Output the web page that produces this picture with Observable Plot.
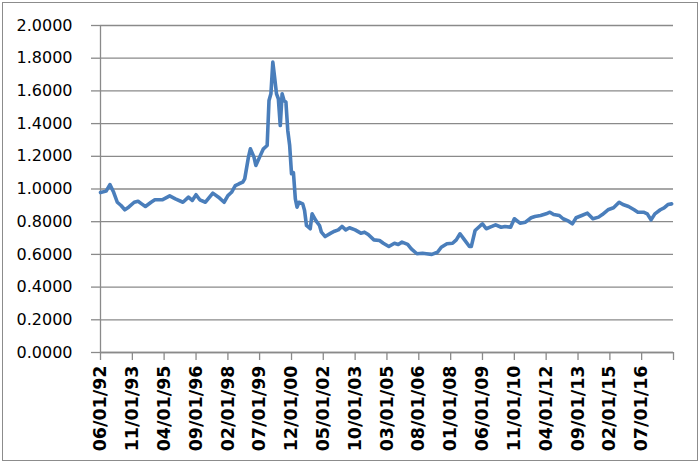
<!DOCTYPE html>
<html>
<head>
<meta charset="utf-8">
<script src="https://cdn.jsdelivr.net/npm/d3@7"></script>
<script src="https://cdn.jsdelivr.net/npm/@observablehq/plot@0.6"></script>
<style>
  html, body { margin: 0; padding: 0; background: #fff; }
  #wrap { position: relative; width: 700px; height: 465px; }
  #border { position: absolute; left: 2px; top: 2px; width: 694px; height: 457px; border: 1px solid #8c8c8c; pointer-events: none; }
</style>
</head>
<body>
<div id="wrap"><div id="border"></div></div>
<script>
const months = [
"1992-06","1992-09","1992-11","1993-01","1993-03","1993-05","1993-07","1993-09","1993-12","1994-02",
"1994-04","1994-06","1994-09","1994-11","1995-03","1995-07","1995-10","1996-02","1996-05","1996-07",
"1996-09","1996-11","1997-02","1997-06","1997-09","1997-12","1998-02","1998-04","1998-06","1998-08",
"1998-10","1998-11","1999-01","1999-02","1999-04","1999-05","1999-07","1999-09","1999-11","1999-12",
"2000-01","2000-02","2000-03","2000-04","2000-05","2000-06","2000-07","2000-08","2000-09","2000-10",
"2000-11","2000-12","2001-01","2001-02","2001-03","2001-04","2001-06","2001-07","2001-08","2001-10",
"2001-11","2002-01","2002-03","2002-04","2002-06","2002-09","2002-11","2003-01","2003-03","2003-05",
"2003-07","2003-10","2004-01","2004-03","2004-05","2004-08","2004-11","2005-01","2005-04","2005-07",
"2005-09","2005-11","2006-02","2006-04","2006-07","2006-10","2006-12","2007-03","2007-06","2007-08",
"2007-11","2008-02","2008-04","2008-06","2008-08","2008-11","2008-12","2009-02","2009-05","2009-06",
"2009-08","2009-11","2010-01","2010-04","2010-06","2010-09","2010-11","2011-02","2011-05","2011-08",
"2011-10","2012-01","2012-04","2012-06","2012-08","2012-11","2013-01","2013-04","2013-06","2013-08",
"2013-11","2014-02","2014-05","2014-08","2014-10","2015-01","2015-04","2015-07","2015-09","2015-12",
"2016-03","2016-05","2016-08","2016-10","2016-12","2017-02","2017-05","2017-07","2017-09","2017-11"
];
const values = [
0.978,0.987,1.027,0.98,0.919,0.899,0.873,0.889,0.919,0.925,
0.909,0.893,0.919,0.934,0.934,0.958,0.940,0.919,0.950,0.930,
0.965,0.934,0.919,0.975,0.95,0.919,0.96,0.98,1.021,1.032,
1.042,1.062,1.195,1.246,1.195,1.144,1.195,1.246,1.266,1.541,
1.582,1.776,1.684,1.582,1.552,1.388,1.582,1.541,1.531,1.358,
1.266,1.093,1.10,0.94,0.889,0.919,0.909,0.869,0.777,0.757,
0.848,0.807,0.777,0.736,0.709,0.730,0.742,0.750,0.771,0.750,
0.763,0.750,0.730,0.736,0.722,0.689,0.685,0.668,0.648,0.668,
0.661,0.675,0.661,0.634,0.604,0.607,0.604,0.600,0.613,0.644,
0.665,0.668,0.689,0.726,0.695,0.648,0.648,0.746,0.777,0.787,
0.757,0.771,0.781,0.766,0.771,0.766,0.818,0.791,0.797,0.824,
0.832,0.838,0.848,0.858,0.844,0.838,0.818,0.803,0.787,0.824,
0.838,0.852,0.818,0.828,0.844,0.873,0.885,0.919,0.905,0.893,
0.873,0.858,0.858,0.848,0.811,0.848,0.873,0.885,0.905,0.909
];
const xTickLabels = ["06/01/92","11/01/93","04/01/95","09/01/96","02/01/98","07/01/99","12/01/00","05/01/02","10/01/03","03/01/05","08/01/06","01/01/08","06/01/09","11/01/10","04/01/12","09/01/13","02/01/15","07/01/16"];
const xAxisEnd = "12/01/17";
const yTicks = [0, 0.2, 0.4, 0.6, 0.8, 1.0, 1.2, 1.4, 1.6, 1.8, 2.0];

const parseMonth = d3.utcParse("%Y-%m");
const parseLabel = d3.utcParse("%m/%d/%y");
const fmtLabel = d3.utcFormat("%m/%d/%y");
const data = months.map((m, i) => ({date: parseMonth(m), value: values[i]}));
const tickDates = xTickLabels.concat([xAxisEnd]).map(parseLabel);
const endKey = +parseLabel(xAxisEnd);

const gridColor = "#8a8a8a";
const chart = Plot.plot({
  width: 700,
  height: 465,
  marginLeft: 100,
  marginRight: 27,
  marginTop: 25,
  marginBottom: 113,
  style: {fontFamily: "DejaVu Sans", fontSize: "16px", color: "black", background: "transparent"},
  x: {type: "utc", domain: [tickDates[0], tickDates[tickDates.length - 1]], label: null},
  y: {domain: [0, 2], label: null},
  marks: [
    Plot.gridY(yTicks, {stroke: gridColor, strokeOpacity: 1, strokeWidth: 1.3}),
    Plot.ruleX([tickDates[0]], {stroke: gridColor, strokeWidth: 1.3}),
    Plot.ruleY([0], {stroke: gridColor, strokeWidth: 1.3}),
    Plot.axisY({ticks: yTicks, tickFormat: d3.format(".4f"), tickSize: 9, tickPadding: 19,
      stroke: gridColor, strokeWidth: 1.3, fill: "black", fontSize: 16, label: null}),
    Plot.axisX({ticks: tickDates, tickSize: 8, tickPadding: 5, tickRotate: -90,
      tickFormat: d => (+d === endKey ? "" : fmtLabel(d)),
      stroke: gridColor, strokeWidth: 1.3, fill: "black", fontSize: 17.5, fontWeight: "bold", label: null}),
    Plot.line(data, {x: "date", y: "value", stroke: "#4a7ebb", strokeWidth: 3.6, strokeLinejoin: "round", strokeLinecap: "round"})
  ]
});
document.getElementById("wrap").prepend(chart);
</script>
</body>
</html>
